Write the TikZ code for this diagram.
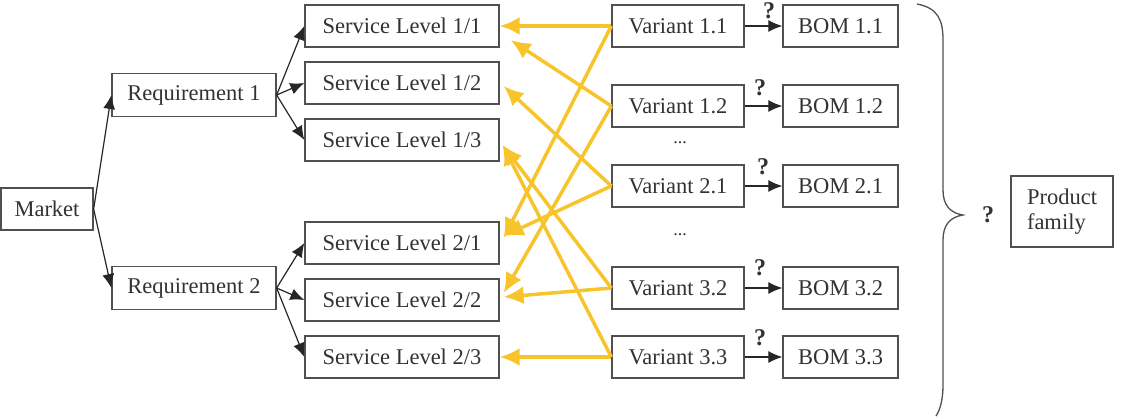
\documentclass[tikz,border=0pt]{standalone}
\usepackage{fontspec}
\setmainfont{Liberation Serif}
\usetikzlibrary{arrows.meta}
\definecolor{ylwc}{RGB}{248,196,44}
\definecolor{bx}{RGB}{80,80,80}
\definecolor{txt}{RGB}{50,50,50}
\begin{document}
\begin{tikzpicture}[x=1pt,y=-1pt,
 box/.style={draw=bx,line width=1.3pt,minimum height=42pt,inner sep=0pt,font=\fontsize{22.5}{25}\selectfont,text=txt},
 blk/.style={-{Latex[length=14pt,width=12pt]},line width=1.2pt,draw=black!85},
 yarr/.style={-{Latex[length=20pt,width=18pt]},line width=3.5pt,draw=ylwc},
 qm/.style={font=\fontsize{24}{24}\selectfont\bfseries,text=txt,inner sep=0pt},
 dots/.style={font=\fontsize{18}{18}\selectfont,text=txt,inner sep=0pt}]
\useasboundingbox (0,0) rectangle (1124,416);
% left side
\node[box,minimum width=92pt] (mk) at (47,209) {Market};
\node[box,minimum width=164pt,minimum height=43pt] (r1) at (194,95) {Requirement 1};
\node[box,minimum width=164pt,minimum height=43pt] (r2) at (194,288) {Requirement 2};
% service levels
\node[box,minimum width=194pt] (s11) at (402,26) {Service Level 1/1};
\node[box,minimum width=194pt] (s12) at (402,83) {Service Level 1/2};
\node[box,minimum width=194pt] (s13) at (402,140) {Service Level 1/3};
\node[box,minimum width=194pt] (s21) at (402,243) {Service Level 2/1};
\node[box,minimum width=194pt] (s22) at (402,300) {Service Level 2/2};
\node[box,minimum width=194pt] (s23) at (402,357) {Service Level 2/3};
% variants
\node[box,minimum width=132pt] (v11) at (678,26) {Variant 1.1};
\node[box,minimum width=132pt] (v12) at (678,106) {Variant 1.2};
\node[box,minimum width=132pt] (v21) at (678,186) {Variant 2.1};
\node[box,minimum width=132pt] (v32) at (678,288) {Variant 3.2};
\node[box,minimum width=132pt] (v33) at (678,357) {Variant 3.3};
% BOMs
\node[box,minimum width=115pt] (b11) at (840.5,26) {BOM 1.1};
\node[box,minimum width=115pt] (b12) at (840.5,106) {BOM 1.2};
\node[box,minimum width=115pt] (b21) at (840.5,186) {BOM 2.1};
\node[box,minimum width=115pt] (b32) at (840.5,288) {BOM 3.2};
\node[box,minimum width=115pt] (b33) at (840.5,357) {BOM 3.3};
% dots
\node[dots] (d1) at (680,143) {...};
\node[dots] (d2) at (680,235) {...};
% black arrows
\draw[blk] (mk.east) -- (r1.west);
\draw[blk] (mk.east) -- (r2.west);
\foreach \s in {s11,s12,s13} \draw[blk] (r1.east) -- (\s.west);
\foreach \s in {s21,s22,s23} \draw[blk] (r2.east) -- (\s.west);
\foreach \a in {11,12,21,32,33} \draw[blk] (v\a.east) -- (b\a.west);
% question marks
\node[qm] (q11) at (769,11) {?};
\node[qm] (q12) at (760,88) {?};
\node[qm] (q21) at (763,167) {?};
\node[qm] (q32) at (760,268) {?};
\node[qm] (q33) at (760,338) {?};
% yellow arrows
\draw[yarr] (v11.west) -- (s11.east);
\draw[yarr] (v11.west) -- ([shift={(4,-5)}]s21.east);
\draw[yarr] (v12.west) -- ([shift={(11,14)}]s11.east);
\draw[yarr] (v12.west) -- ([shift={(4,-7)}]s22.east);
\draw[yarr] (v21.west) -- ([shift={(4,3)}]s12.east);
\draw[yarr] (v21.west) -- ([shift={(4,-7)}]s21.east);
\draw[yarr] (v32.west) -- ([shift={(3,5)}]s13.east);
\draw[yarr] (v32.west) -- ([shift={(4,-3)}]s22.east);
\draw[yarr] (v33.west) -- ([shift={(3,5)}]s13.east);
\draw[yarr] (v33.west) -- (s23.east);
% brace
\draw[bx,line width=1.3pt] (917,4) .. controls (938,8) and (943,20) .. (943,40)
  -- (943,190) .. controls (943,205) and (950,213) .. (963,215)
  .. controls (950,217) and (943,225) .. (943,240)
  -- (943,385) .. controls (943,400) and (940,410) .. (936,416);
\node[qm] (qf) at (988,215) {?};
\node[box,minimum width=102pt,minimum height=71pt,align=left] (pf) at (1062,211.5) {Product\\family};
\end{tikzpicture}
\end{document}
